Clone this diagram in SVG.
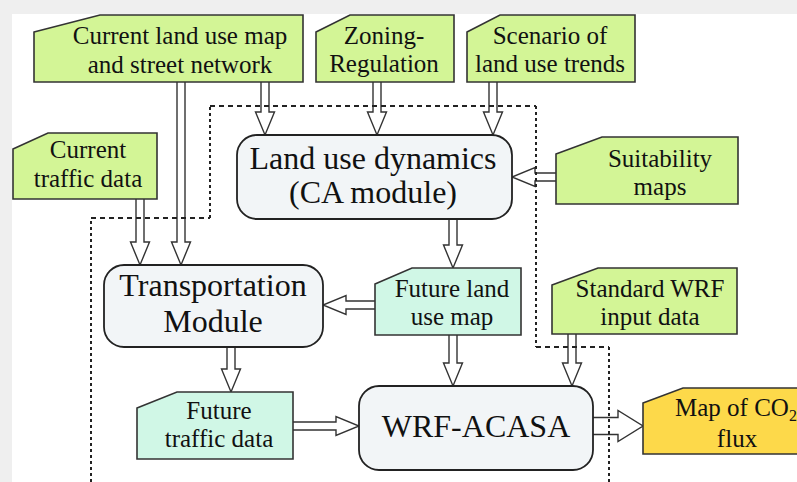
<svg xmlns="http://www.w3.org/2000/svg" width="797" height="482" viewBox="0 0 797 482">
<style>
  .card { stroke: #333; stroke-width: 1.6; stroke-linejoin: miter; }
  .green { fill: #d3f596; }
  .mint { fill: #d0f7e6; }
  .yellow { fill: #fdd94a; }
  .proc { fill: #f2f5f7; stroke: #222; stroke-width: 1.8; }
  .t { font-family: "Liberation Serif", "Times New Roman", serif; fill: #111; text-anchor: middle; }
  .s { font-size: 25px; }
  .b { font-size: 32px; }
  .arr { fill: #fff; stroke: #333; stroke-width: 1.4; stroke-linejoin: miter; }
  .dh { fill: none; stroke: #222; stroke-width: 2; stroke-dasharray: 5 4; }
  .dv { fill: none; stroke: #222; stroke-width: 2; stroke-dasharray: 3 3; }
</style>
<rect x="0" y="0" width="797" height="482" fill="#efefef"/>
<rect x="12" y="14" width="785" height="468" fill="#ffffff"/>

<g id="connectors">
  <path class="arr" d="M177,82 V242 H171.5 L181,265 L190.5,242 H185 V82"/>
  <path class="arr" d="M261,82 V112 H255.5 L265,135 L274.5,112 H269 V82"/>
  <path class="arr" d="M373,82 V112 H367.5 L377,135 L386.5,112 H381 V82"/>
  <path class="arr" d="M489,82 V112 H483.5 L493,135 L502.5,112 H497 V82"/>
  <path class="arr" d="M136,199 V242 H130.5 L140,265 L149.5,242 H144 V199"/>
  <path class="arr" d="M556,173 H535 V167.5 L512,177 L535,186.5 V181 H556"/>
  <path class="arr" d="M449,219 V245 H443.5 L453,268 L462.5,245 H457 V219"/>
  <path class="arr" d="M375,301 H346 V295.5 L323,305 L346,314.5 V309 H375"/>
  <path class="arr" d="M449,335 V363 H443.5 L453,386 L462.5,363 H457 V335"/>
  <path class="arr" d="M568,334 V363 H562.5 L572,386 L581.5,363 H576 V334"/>
  <path class="arr" d="M227,347 V369 H221.5 L231,392 L240.5,369 H235 V347"/>
  <path class="arr" d="M293,422 H336 V416.5 L359,426 L336,435.5 V430 H293"/>
  <path class="arr" d="M593,417.5 H618 V410.5 L643,426 L618,441.5 V434.5 H593"/>
  <path class="dv" d="M91,482 V218"/>
  <path class="dh" d="M91,218 H210"/>
  <path class="dv" d="M210,218 V106"/>
  <path class="dh" d="M210,106 H536"/>
  <path class="dv" d="M536,106 V347"/>
  <path class="dh" d="M536,347 H609"/>
  <path class="dv" d="M609,347 V482"/>
</g>

<g id="current-land-use">
  <path class="card green" d="M34,32 L100,15 H303 V82 H34 Z"/>
  <text class="t s" x="180" y="44">Current land use map</text>
  <text class="t s" x="180" y="73">and street network</text>
</g>
<g id="zoning">
  <path class="card green" d="M316,32 L350,15 H454 V82 H316 Z"/>
  <text class="t s" x="384" y="44">Zoning-</text>
  <text class="t s" x="384" y="72">Regulation</text>
</g>
<g id="scenario">
  <path class="card green" d="M467,32 L500,15 H635 V82 H467 Z"/>
  <text class="t s" x="550" y="44">Scenario of</text>
  <text class="t s" x="550" y="72">land use trends</text>
</g>
<g id="current-traffic">
  <path class="card green" d="M13,149 L48,133 H157 V199 H13 Z"/>
  <text class="t s" x="88" y="158">Current</text>
  <text class="t s" x="88" y="187">traffic data</text>
</g>
<g id="land-use-dynamics">
  <rect class="proc" x="237" y="135" width="275" height="84" rx="20"/>
  <text class="t b" x="373" y="169">Land use dynamics</text>
  <text class="t b" x="373" y="203">(CA module)</text>
</g>
<g id="suitability">
  <path class="card green" d="M556,154 L602,137 H738 V204 H556 Z"/>
  <text class="t s" x="660" y="167">Suitability</text>
  <text class="t s" x="660" y="195">maps</text>
</g>
<g id="transportation">
  <rect class="proc" x="104" y="265" width="219" height="82" rx="20"/>
  <text class="t b" x="213" y="296">Transportation</text>
  <text class="t b" x="213" y="332">Module</text>
</g>
<g id="future-land-use">
  <path class="card mint" d="M375,284 L412,268 H521 V335 H375 Z"/>
  <text class="t s" x="452" y="297">Future land</text>
  <text class="t s" x="452" y="325">use map</text>
</g>
<g id="standard-wrf">
  <path class="card green" d="M552,285 L598,268 H737 V334 H552 Z"/>
  <text class="t s" x="650" y="297">Standard WRF</text>
  <text class="t s" x="650" y="325">input data</text>
</g>
<g id="future-traffic">
  <path class="card mint" d="M137,408 L177,392 H293 V459 H137 Z"/>
  <text class="t s" x="219" y="419">Future</text>
  <text class="t s" x="219" y="447">traffic data</text>
</g>
<g id="wrf-acasa">
  <rect class="proc" x="359" y="386" width="234" height="84" rx="20"/>
  <text class="t b" x="476" y="437">WRF-ACASA</text>
</g>
<g id="co2-map">
  <path class="card yellow" d="M643,403 L683,388 H812 V454 H643 Z"/>
  <text class="t s" x="675" y="416" style="text-anchor:start">Map of CO<tspan font-size="16" dy="5">2</tspan></text>
  <text class="t s" x="737" y="447">flux</text>
</g>
</svg>
